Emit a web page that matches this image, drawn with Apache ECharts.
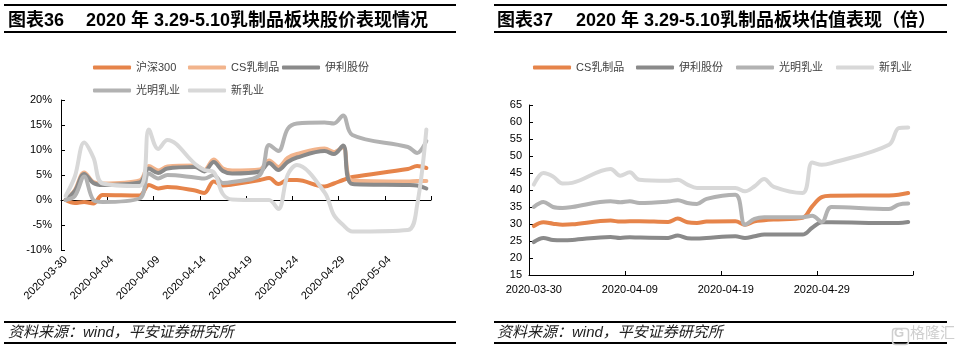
<!DOCTYPE html>
<html>
<head>
<meta charset="utf-8">
<script src="https://cdn.jsdelivr.net/npm/echarts@6/dist/echarts.min.js"></script>
<style>
  html, body { margin: 0; padding: 0; background: #fff; }
  #chart { width: 964px; height: 352px; }
</style>
</head>
<body>
<div id="chart"></div>
<script>
// trading days shown on both charts
const tradeDays = ['2020-03-30', '2020-03-31', '2020-04-01', '2020-04-02', '2020-04-03',
    '2020-04-07', '2020-04-08', '2020-04-09', '2020-04-10', '2020-04-13', '2020-04-14',
    '2020-04-15', '2020-04-16', '2020-04-17', '2020-04-20', '2020-04-21', '2020-04-22',
    '2020-04-23', '2020-04-24', '2020-04-27', '2020-04-28', '2020-04-29', '2020-04-30',
    '2020-05-06', '2020-05-07', '2020-05-08'];
const axisStart = '2020-03-30';
const axisDays = 40;

// 图表36: 涨跌幅 (%)
const hs300 = [0.0, -0.6, -0.4, -0.7, 1.0, 0.9, 3.0, 2.3, 2.6, 1.9, 1.4, 3.7, 2.9, 3.1,
    4.0, 4.4, 3.2, 4.0, 4.0, 2.7, 3.3, 4.0, 4.6, 6.2, 6.8, 6.4];
const csDairy = [0.0, 2.0, 5.5, 3.6, 3.3, 3.9, 6.8, 5.9, 6.7, 6.9, 6.0, 8.1, 6.3, 5.9,
    6.1, 7.9, 6.6, 8.4, 9.2, 10.3, 9.6, 10.6, 3.9, 3.7, 3.8, 3.8];
const yili = [0.0, 1.8, 5.2, 3.4, 3.0, 3.5, 6.3, 5.4, 6.3, 6.6, 5.7, 7.6, 5.8, 5.3,
    5.7, 7.4, 6.0, 7.6, 8.5, 9.8, 9.2, 10.9, 3.2, 3.0, 2.9, 2.3];
const bright = [0.0, 0.8, 4.7, 0.0, -0.4, 0.3, 5.3, 4.3, 5.0, 4.5, 4.3, 5.0, 3.4, 3.6,
    5.0, 11.0, 9.8, 14.2, 15.3, 15.5, 15.3, 16.9, 13.0, 10.6, 9.4, 11.8];
const newDairy = [0.8, 4.7, 11.5, 8.5, 3.3, 2.8, 14.1, 10.2, 12.0, 7.2, 6.0, 5.6, 1.2, 0.1,
    0.0, 0.0, -1.8, 5.0, 7.0, 1.5, -3.0, -5.0, -6.3, -6.0, -1.0, 14.1];

// 图表37: 估值 (倍)
const csPE = [29.4, 30.5, 30.1, 29.8, 29.9, 31.0, 30.7, 30.8, 30.8, 30.6, 31.6, 30.5, 30.3,
    30.7, 30.8, 29.8, 30.8, 31.1, 31.3, 31.8, 35.2, 37.9, 38.3, 38.4, 38.6, 39.1];
const yiliPE = [24.7, 25.9, 25.3, 25.2, 25.3, 26.2, 25.9, 26.1, 26.0, 25.9, 26.6, 25.8, 25.7,
    25.9, 26.4, 25.9, 26.4, 26.9, 26.9, 26.9, 28.9, 30.5, 30.5, 30.3, 30.3, 30.6];
const brightPE = [35.0, 36.5, 35.0, 34.7, 35.0, 36.7, 36.4, 36.7, 36.2, 36.6, 37.0, 36.2, 35.9,
    37.4, 38.6, 29.8, 31.5, 32.0, 32.0, 32.0, 32.4, 30.6, 35.0, 34.4, 35.7, 36.0];
const newPE = [41.6, 45.0, 44.0, 41.9, 42.1, 46.2, 44.2, 45.2, 43.0, 42.7, 43.0, 41.6, 40.6,
    40.6, 40.6, 39.6, 41.1, 43.2, 40.9, 39.1, 48.1, 47.4, 47.9, 53.3, 58.2, 58.4];

const ORANGE = '#E6844A';
const LIGHT_ORANGE = '#F2B48C';
const DARK_GRAY = '#8A8A8A';
const MID_GRAY = '#B2B2B2';
const LIGHT_GRAY = '#D8D8D8';
const FONT = '"Liberation Sans", "Noto Sans CJK SC", sans-serif';

// calendar axis, one slot per day
const calendarDays = [];
for (let i = 0; i < axisDays; i++) {
    const d = new Date(axisStart + 'T00:00:00Z');
    d.setUTCDate(d.getUTCDate() + i);
    calendarDays.push(d.toISOString().slice(0, 10));
}

function pairs(values) {
    return tradeDays.map((day, i) => [calendarDays.indexOf(day), values[i]]);
}

function lineSeries(name, values, color, xIdx, yIdx) {
    return {
        name: name,
        type: 'line',
        xAxisIndex: xIdx,
        yAxisIndex: yIdx,
        data: pairs(values),
        smooth: 0.35,
        symbol: 'none',
        color: color,
        lineStyle: {width: 4, color: color, cap: 'round', join: 'round'},
        emphasis: {disabled: true}
    };
}

function legendItem(name, left, top) {
    return {
        data: [name],
        left: left,
        top: top,
        padding: 0,
        icon: 'roundRect',
        itemWidth: 38,
        itemHeight: 4,
        selectedMode: false,
        textStyle: {fontSize: 11, color: '#404040', fontFamily: FONT}
    };
}

function titleText(x, text) {
    return {
        type: 'text', left: x, top: 12,
        style: {text: text, font: 'bold 18px ' + FONT, fill: '#000'}
    };
}

function rule(x1, x2, y) {
    return {
        type: 'line',
        shape: {x1: x1, y1: y, x2: x2, y2: y},
        style: {stroke: '#000', lineWidth: 2}
    };
}

function footer(x) {
    return {
        type: 'text', left: x, top: 325,
        style: {text: '资料来源：wind，平安证券研究所', font: 'italic 15px ' + FONT, fill: '#222'}
    };
}

const axisText = {fontSize: 11, color: '#000', fontFamily: FONT};
const blackLine = {lineStyle: {color: '#000', width: 1}};

const chart = echarts.init(document.getElementById('chart'));
chart.setOption({
    animation: false,
    backgroundColor: '#fff',
    grid: [
        {left: 61, top: 100, width: 370, height: 150},
        {left: 529, top: 105, width: 384, height: 170}
    ],
    xAxis: [
        {
            type: 'category', gridIndex: 0, data: calendarDays, boundaryGap: true,
            position: 'bottom',
            axisLine: {show: false, onZero: false},
            axisTick: {show: false},
            axisLabel: Object.assign({interval: 4, rotate: 45, margin: 8}, axisText),
            splitLine: {show: false}
        },
        {
            type: 'category', gridIndex: 0, data: calendarDays, boundaryGap: true,
            position: 'bottom',
            axisLine: Object.assign({onZero: true}, blackLine),
            axisTick: {show: true, inside: true, interval: 4, length: 4, lineStyle: {color: '#000'}},
            axisLabel: {show: false},
            splitLine: {show: false}
        },
        {
            type: 'category', gridIndex: 1, data: calendarDays, boundaryGap: true,
            axisLine: blackLine,
            axisTick: {show: true, inside: true, interval: 9, length: 4, lineStyle: {color: '#000'}},
            axisLabel: Object.assign({interval: 9, margin: 9}, axisText),
            splitLine: {show: false}
        }
    ],
    yAxis: [
        {
            type: 'value', gridIndex: 0, min: -10, max: 20, interval: 5,
            axisLine: Object.assign({show: true}, blackLine),
            axisTick: {show: true, inside: true, length: 4, lineStyle: {color: '#000'}},
            axisLabel: Object.assign({formatter: '{value}%', margin: 9}, axisText),
            splitLine: {show: false}
        },
        {
            type: 'value', gridIndex: 1, min: 15, max: 65, interval: 5,
            axisLine: Object.assign({show: true}, blackLine),
            axisTick: {show: true, inside: true, length: 4, lineStyle: {color: '#000'}},
            axisLabel: Object.assign({margin: 7}, axisText),
            splitLine: {show: false}
        }
    ],
    legend: [
        legendItem('沪深300', 93, 62),
        legendItem('CS乳制品', 188, 62),
        legendItem('伊利股份', 282, 62),
        legendItem('光明乳业', 93, 85),
        legendItem('新乳业', 188, 85),
        legendItem('CS乳制品\u200B', 533, 62),
        legendItem('伊利股份\u200B', 636, 62),
        legendItem('光明乳业\u200B', 736, 62),
        legendItem('新乳业\u200B', 836, 62)
    ],
    series: [
        lineSeries('沪深300', hs300, ORANGE, 0, 0),
        lineSeries('CS乳制品', csDairy, LIGHT_ORANGE, 0, 0),
        lineSeries('伊利股份', yili, DARK_GRAY, 0, 0),
        lineSeries('光明乳业', bright, MID_GRAY, 0, 0),
        lineSeries('新乳业', newDairy, LIGHT_GRAY, 0, 0),
        lineSeries('CS乳制品\u200B', csPE, ORANGE, 2, 1),
        lineSeries('伊利股份\u200B', yiliPE, DARK_GRAY, 2, 1),
        lineSeries('光明乳业\u200B', brightPE, MID_GRAY, 2, 1),
        lineSeries('新乳业\u200B', newPE, LIGHT_GRAY, 2, 1)
    ],
    graphic: [
        rule(4, 456, 5), rule(4, 456, 32),
        rule(494, 947, 5), rule(494, 947, 32),
        titleText(8, '图表36'),
        titleText(86, '2020 年 3.29-5.10乳制品板块股价表现情况'),
        titleText(497, '图表37'),
        titleText(576, '2020 年 3.29-5.10乳制品板块估值表现（倍）'),
        rule(4, 456, 322), rule(4, 456, 343),
        rule(494, 947, 322), rule(494, 947, 343),
        footer(8),
        footer(497),
        {
            type: 'rect', left: 890, top: 326,
            shape: {width: 16, height: 16, r: 3},
            style: {fill: 'none', stroke: '#cfcfcf', lineWidth: 1.5}
        },
        {
            type: 'text', left: 894, top: 327,
            style: {text: 'G', font: 'bold 13px ' + FONT, fill: '#cfcfcf'}
        },
        {
            type: 'text', left: 910, top: 326,
            style: {text: '格隆汇', font: '15px ' + FONT, fill: '#cfcfcf'}
        }
    ]
});
</script>
</body>
</html>
